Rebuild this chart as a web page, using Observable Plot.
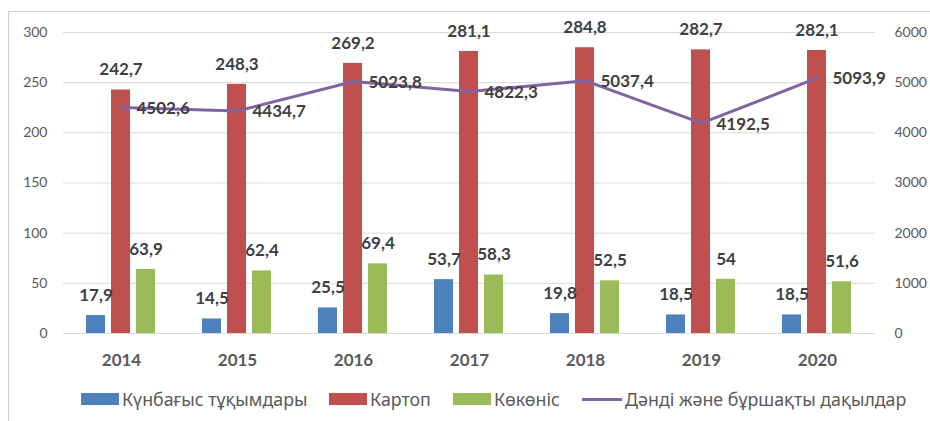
<!DOCTYPE html>
<html>
<head>
<meta charset="utf-8">
<script src="https://cdn.jsdelivr.net/npm/d3@7"></script>
<script src="https://cdn.jsdelivr.net/npm/@observablehq/plot@0.6"></script>
<style>
  html, body { margin: 0; padding: 0; background: #fff; }
  body { width: 930px; height: 421px; overflow: hidden; position: relative; }
  #frame { position: absolute; left: 8px; top: 11px; width: 960px; height: 460px; border: 1px solid #d0d0d0; box-sizing: border-box; }
  .layer { position: absolute; left: 0; top: 0; }
  #legend { position: absolute; top: 387px; left: 0; width: 930px; height: 26px; font-family: "Noto Sans", sans-serif; font-size: 17.8px; color: #595959; }
  .item { position: absolute; top: 0; display: flex; align-items: center; height: 24px; white-space: nowrap; }
  .sw { display: inline-block; width: 38px; height: 12px; margin-right: 3px; }
  .ln { display: inline-block; width: 40px; height: 3px; margin-right: 3px; }
</style>
</head>
<body>
<div id="frame"></div>
<div id="p1" class="layer"></div>
<div id="p2" class="layer"></div>
<div id="legend"></div>
<script>
const years = ["2014", "2015", "2016", "2017", "2018", "2019", "2020"];
const sunflower = [17.9, 14.5, 25.5, 53.7, 19.8, 18.5, 18.5];
const potato = [242.7, 248.3, 269.2, 281.1, 284.8, 282.7, 282.1];
const vegetables = [63.9, 62.4, 69.4, 58.3, 52.5, 54, 51.6];
const grain = [4502.6, 4434.7, 5023.8, 4822.3, 5037.4, 4192.5, 5093.9];
const seriesNames = ["Күнбағыс тұқымдары", "Картоп", "Көкөніс", "Дәнді және бұршақты дақылдар"];
const seriesColors = ["#4F81BD", "#C0504D", "#9BBB59", "#8064A2"];
const leftTicks = [0, 50, 100, 150, 200, 250, 300];
const rightTicks = [0, 1000, 2000, 3000, 4000, 5000, 6000];

const barSeries = seriesNames.slice(0, 3);
const barValues = [sunflower, potato, vegetables];
const rows = [];
years.forEach((y, i) => barSeries.forEach((s, j) => rows.push({year: y, series: s, value: barValues[j][i]})));
const lineRows = years.map((y, i) => ({year: y, value: grain[i]}));
const fmt = v => String(v).replace(".", ",");

const W = 930, H = 380, MT = 32, MB = 47, ML = 62, MR = 54;
const numFont = "Lato, 'Noto Sans', sans-serif";

const p1 = Plot.plot({
  width: W, height: H, marginTop: MT, marginBottom: MB, marginLeft: ML, marginRight: MR,
  style: {fontFamily: numFont, background: "transparent", overflow: "visible"},
  fx: {domain: years, padding: 0, label: null},
  x: {domain: barSeries, axis: null, paddingInner: 0.23, paddingOuter: 0.85},
  y: {domain: [0, 300], axis: null},
  color: {domain: barSeries, range: seriesColors.slice(0, 3)},
  marks: [
    Plot.gridY(leftTicks, {stroke: "#d9d9d9", strokeOpacity: 1}),
    Plot.axisY({ticks: leftTicks, tickSize: 0, tickPadding: 16, fontSize: 14, color: "#595959", label: null}),
    Plot.axisFx({anchor: "bottom", tickSize: 0, tickPadding: 20, fontSize: 17, fontWeight: "bold", color: "#595959", label: null}),
    Plot.barY(rows, {fx: "year", x: "series", y: "value", fill: "series"}),
    Plot.text(rows, {fx: "year", x: "series", y: "value", text: d => fmt(d.value), dy: -20, fontSize: 17, fontWeight: "bold", fill: "#404040"})
  ]
});
document.getElementById("p1").appendChild(p1);

const p2 = Plot.plot({
  width: W, height: H, marginTop: MT, marginBottom: MB, marginLeft: ML, marginRight: MR,
  style: {fontFamily: numFont, background: "transparent", overflow: "visible"},
  x: {domain: years, type: "point", padding: 0.5, axis: null},
  y: {domain: [0, 6000], axis: null},
  marks: [
    Plot.axisY({anchor: "right", ticks: rightTicks, tickSize: 0, tickPadding: 18, fontSize: 14, color: "#595959", label: null, tickFormat: d3.format("d")}),
    Plot.line(lineRows, {x: "year", y: "value", stroke: seriesColors[3], strokeWidth: 3}),
    Plot.text(lineRows, {x: "year", y: "value", text: d => fmt(d.value), textAnchor: "start", dx: 15, dy: 1, fontSize: 17, fontWeight: "bold", fill: "#404040"})
  ]
});
document.getElementById("p2").appendChild(p2);

const legend = document.getElementById("legend");
const lefts = [81, 329, 453, 582];
seriesNames.forEach((name, i) => {
  const item = document.createElement("div");
  item.className = "item";
  item.style.left = lefts[i] + "px";
  const sw = document.createElement("span");
  if (i < 3) { sw.className = "sw"; } else { sw.className = "ln"; }
  sw.style.background = seriesColors[i];
  const t = document.createElement("span");
  t.textContent = name;
  item.appendChild(sw);
  item.appendChild(t);
  legend.appendChild(item);
});
</script>
</body>
</html>
